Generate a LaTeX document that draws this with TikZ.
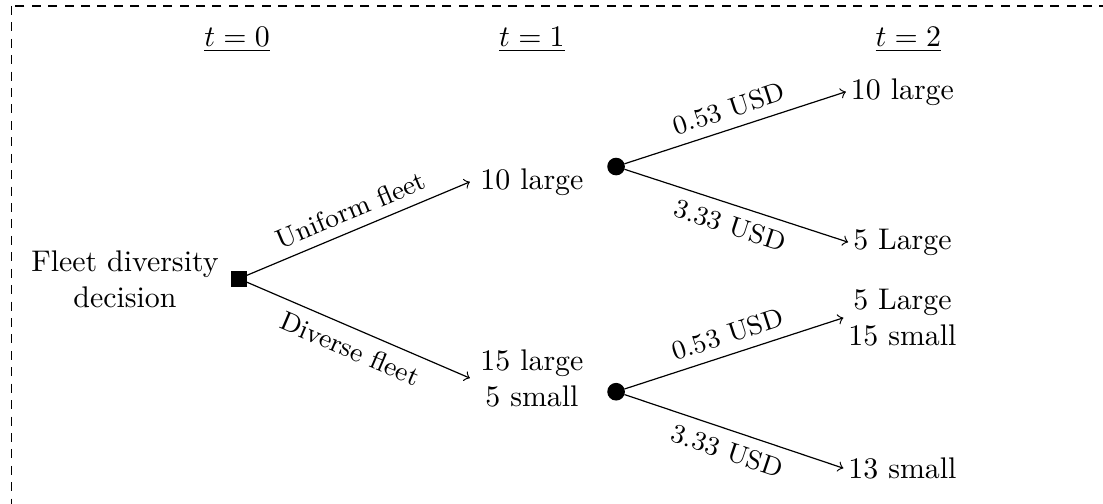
\documentclass[tikz,border=0pt]{standalone}
\begin{document}
\begin{tikzpicture}[
    decnode/.style={draw,fill=black,minimum size=5pt,inner sep=0pt},
    chancenode/.style={draw,fill=black,circle,minimum size=5.5pt,inner sep=0pt},
    leaf/.style={align=center,inner sep=1.5pt},
    lbl/.style={font=\small,midway,sloped}
  ]
    \useasboundingbox (0,0) rectangle (12.98,-5.93);
    \draw[dash pattern=on 3pt off 2.5pt] (0.14,-0.07) rectangle (13.5,-6.5);
    \node (t0) at (2.79,-0.47) {\underline{$t=0$}};
    \node (t1) at (6.26,-0.47) {\underline{$t=1$}};
    \node (t2) at (10.69,-0.47) {\underline{$t=2$}};
    \node[align=center] (fleet) at (1.47,-3.29) {Fleet diversity\\decision};
    \node[decnode] (dec) at (2.81,-3.28) {};
    \node[align=center] (uni) at (6.26,-2.14) {10 large};
    \node[align=center] (div) at (6.26,-4.45) {15 large\\5 small};
    \node[chancenode] (ch1) at (7.25,-1.96) {};
    \node[chancenode] (ch2) at (7.25,-4.61) {};
    \node[leaf] (uniA) at (10.62,-1.08) {10 large};
    \node[leaf] (uniB) at (10.62,-2.85) {5 Large};
    \node[leaf] (divA) at (10.62,-3.74) {5 Large\\15 small};
    \node[leaf] (divB) at (10.62,-5.51) {13 small};
    \draw[->] (dec) -- (uni.west) node[lbl,above] {Uniform fleet};
    \draw[->] (dec) -- (div.west) node[lbl,below] {Diverse fleet};
    \draw[->] (ch1) -- (uniA.west) node[lbl,above] {0.53 USD};
    \draw[->] (ch1) -- (uniB.west) node[lbl,below] {3.33 USD};
    \draw[->] (ch2) -- (divA.west) node[lbl,above] {0.53 USD};
    \draw[->] (ch2) -- (divB.west) node[lbl,below] {3.33 USD};
  \end{tikzpicture}
\end{document}
